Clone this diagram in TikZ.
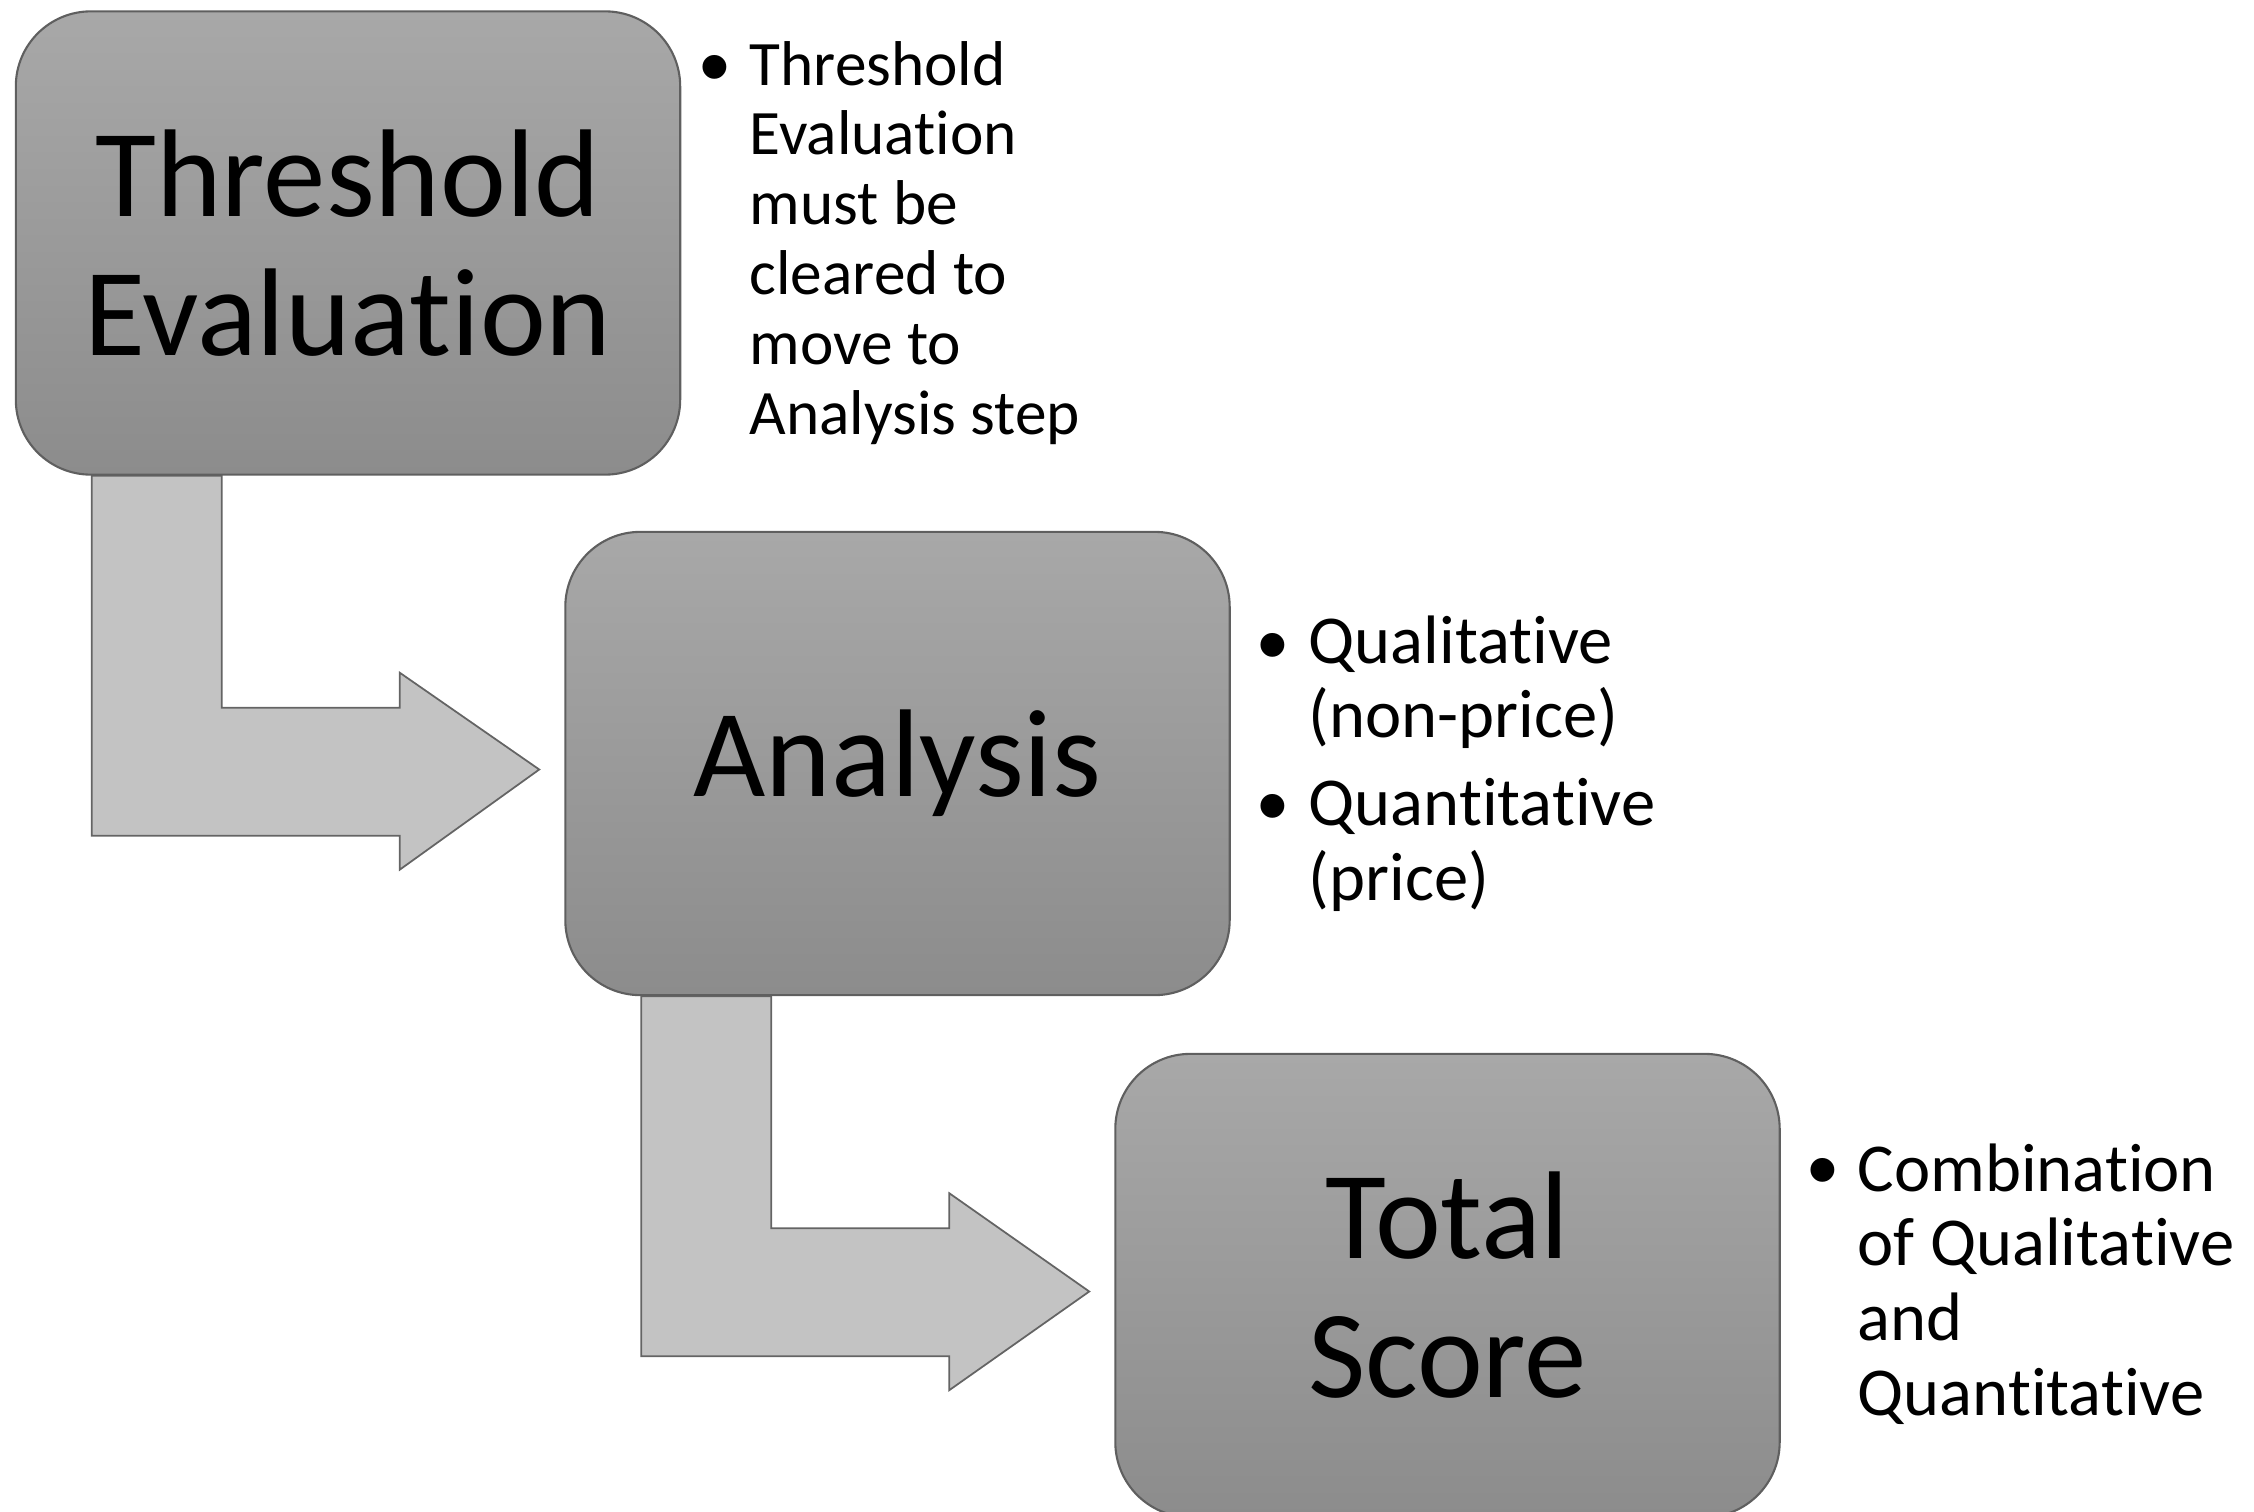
\documentclass[tikz,border=0pt]{standalone}
\usepackage{fontspec}
\setmainfont{Carlito}[Ligatures=NoCommon]
\newfontfamily\bulletfont{Liberation Sans}
\usepackage{xcolor}
\usetikzlibrary{calc,backgrounds}

\definecolor{boxtop}{RGB}{168,168,168}
\definecolor{boxbot}{RGB}{140,140,140}
\definecolor{boxline}{RGB}{95,95,95}
\definecolor{arrowfill}{RGB}{195,195,195}
\definecolor{arrowline}{RGB}{100,100,100}

\begin{document}
\begin{tikzpicture}[x=0.01cm,y=-0.01cm,
   stepbox/.style={draw=boxline,line width=0.6pt,rounded corners=0.75cm,
      top color=boxtop,bottom color=boxbot,
      minimum width=6.64cm,minimum height=4.63cm,inner sep=0pt,
      align=center,font=\fontsize{35.5pt}{39.5pt}\selectfont},
   bentarrow/.style={draw=arrowline,line width=0.5pt,fill=arrowfill},
   dot/.style={inner sep=0pt,font=\bulletfont\fontsize{25pt}{25pt}\selectfont},
   smalllist/.style={inner sep=0pt,font=\fontsize{18pt}{19.9pt}\selectfont},
   biglist/.style={inner sep=0pt,font=\fontsize{19.5pt}{21.3pt}\selectfont}]
\useasboundingbox (0,0) rectangle (2254,1512);

% the three steps
\node[stepbox] (thresh) at (348,243) {Threshold\\Evaluation};
\node[stepbox] (analysis) at (897.5,763.5) {Analysis};
\node[stepbox] (total) at (1447.5,1285.5) {Total\\Score};

% bent arrows between steps
\begin{scope}[on background layer]
\foreach \a/\b in {thresh/analysis,analysis/total}
  \draw[bentarrow] ($(\a.south west)+(77,0)$) -- ($(\a.south west)+(77,360)$)
    -- ($(\a.south west)+(385,360)$) -- ($(\a.south west)+(385,394)$)
    -- ($(\b.west)+(-25,6)$)
    -- ($(\a.south west)+(385,197)$) -- ($(\a.south west)+(385,232)$)
    -- ($(\a.south west)+(207,232)$) -- ($(\a.south west)+(207,0)$) -- cycle;
\end{scope}

% notes
\node[dot] (dot1) at (715,76) {\textbullet};
\node[smalllist,anchor=base west] (note1) at (749,85)
  {\begin{tabular}[t]{@{}l@{}}Threshold\\Evaluation\\must be\\cleared to\\move to\\Analysis step\end{tabular}};

\node[dot] (dot2a) at (1273,654) {\textbullet};
\node[dot] (dot2b) at (1273,815) {\textbullet};
\node[biglist,anchor=base west] (note2) at (1308,663)
  {\begin{tabular}[t]{@{}l@{}}Qualitative\\(non-price)\\[3.5pt]Quantitative\\(price)\end{tabular}};

\node[dot] (dot3) at (1823,1179) {\textbullet};
\node[biglist,anchor=base west] (note3) at (1857,1191)
  {\begin{tabular}[t]{@{}l@{}}Combination\\of Qualitative\\and\\Quantitative\end{tabular}};
\end{tikzpicture}
\end{document}
